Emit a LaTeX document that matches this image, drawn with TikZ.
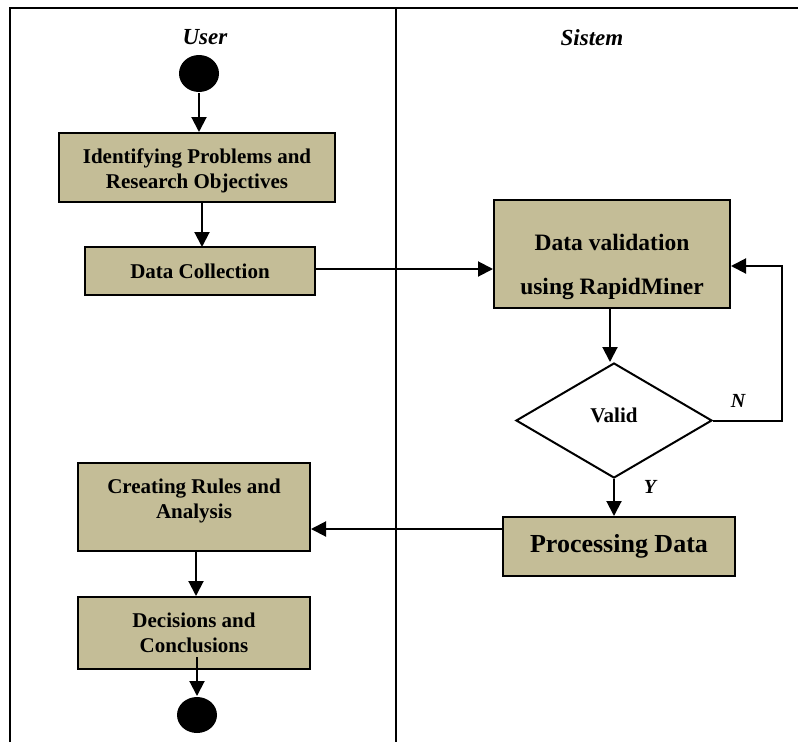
\documentclass[tikz,border=0pt]{standalone}
\usepackage{fontspec}
\setmainfont{Liberation Serif}
\usetikzlibrary{shapes.geometric,arrows.meta}
\definecolor{tanfill}{HTML}{C4BD97}
\begin{document}
\begin{tikzpicture}[x=1pt,y=-1pt,
  line width=2pt,
  arr/.style={-{Triangle[length=15pt,width=15pt]}},
  actbox/.style={draw,fill=tanfill,line width=2pt,align=center,inner sep=0pt,
     font=\fontsize{21}{25}\selectfont\bfseries},
  boxtext/.style={align=center,inner sep=0pt,font=\fontsize{21}{25}\selectfont\bfseries},
  endpt/.style={ellipse,fill=black,inner sep=0pt,minimum width=40pt,minimum height=37pt},
  lane/.style={font=\fontsize{23}{27}\selectfont\bfseries\itshape},
  lbl/.style={font=\fontsize{20}{24}\selectfont\bfseries\itshape}]
\useasboundingbox (0,0) rectangle (798,742);
% frame and swimlanes
\draw (10,742) -- (10,8) -- (798,8);
\draw (396,8) -- (396,742);
\node[lane] (user) at (205,37) {User};
\node[lane] (sistem) at (592,38) {Sistem};
% nodes
\node[endpt] (start) at (199,73.5) {};
\node[actbox,minimum width=276pt,minimum height=69pt] (ident) at (197,167.5) {};
\node[boxtext] (identtext) at (197,171) {Identifying Problems and\\Research Objectives};
\node[actbox,minimum width=230pt,minimum height=48pt] (coll) at (200,271) {Data Collection};
\node[actbox,minimum width=236pt,minimum height=108pt] (valid) at (612,254) {};
\node[boxtext,font=\fontsize{23.5}{44}\selectfont\bfseries] (validtext) at (612,267)
  {Data validation\\using RapidMiner};
\node[diamond,draw,fill=white,minimum width=196pt,minimum height=115pt,inner sep=0pt] (dec) at (614,420.5) {};
\node[boxtext] (dectext) at (614,415) {Valid};
\node[actbox,minimum width=232pt,minimum height=59pt,
  font=\fontsize{26}{30}\selectfont\bfseries] (proc) at (619,546.5) {Processing Data};
\node[actbox,minimum width=232pt,minimum height=88pt] (rules) at (194,507) {};
\node[boxtext] (rulestext) at (194,501) {Creating Rules and\\Analysis};
\node[actbox,minimum width=232pt,minimum height=72pt] (concl) at (194,633)
  {Decisions and\\Conclusions};
\node[endpt,minimum height=36pt] (finish) at (197,715) {};
% connectors
\draw[arr] (start) -- (start |- ident.north);
\draw[arr] (ident.south -| 202,0) -- (202,247);
\coordinate (c1) at (315,269);
\draw[arr] (c1) -- (c1 -| valid.west);
\draw[arr] (valid.south -| 610,0) -- (dec.north -| 610,0);
\coordinate (nloop) at (782,420.5);
\coordinate (nback) at (782,266);
\draw[arr] (dec.east) -- (nloop) -- (nback) -- (nback -| valid.east);
\node[lbl] (nlab) at (738,401) {N};
\draw[arr] (dec.south) -- (dec.south |- proc.north);
\node[lbl] (ylab) at (650,487) {Y};
\coordinate (p1) at (503,529);
\draw[arr] (p1) -- (p1 -| rules.east);
\draw[arr] (rules.south -| 196,0) -- (concl.north -| 196,0);
\draw[arr] (197,657) -- (finish.north);
\end{tikzpicture}
\end{document}
